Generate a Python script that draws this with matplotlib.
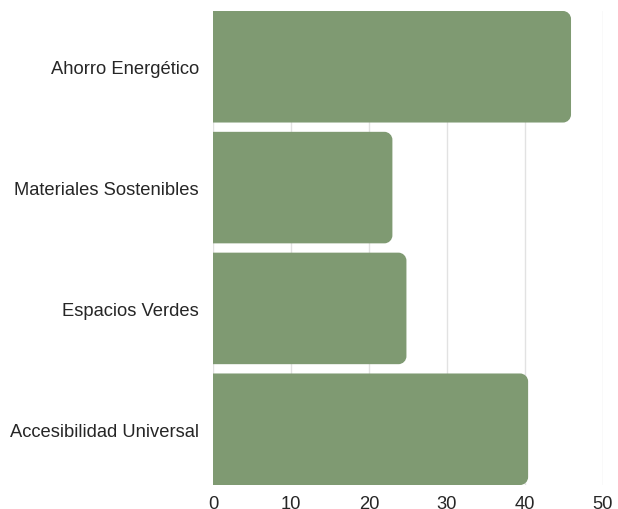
import matplotlib.pyplot as plt
from matplotlib.patches import PathPatch
from matplotlib.path import Path

categorias = ["Ahorro Energético", "Materiales Sostenibles", "Espacios Verdes", "Accesibilidad Universal"]
valores = [45.9, 23.0, 24.8, 40.4]
ticks_x = [0, 10, 20, 30, 40, 50]

plt.rcParams['font.family'] = ['Liberation Sans', 'DejaVu Sans']

fig = plt.figure(figsize=(6.18, 5.10), dpi=100)
ax = fig.add_axes([213 / 618, 1 - 486 / 510, 390 / 618, 474 / 510])

color_barra = "#7f9a72"
alto = 0.923
bars = ax.barh(categorias, valores, height=alto, color=color_barra)

ax.set_xlim(0, 50)
ax.set_ylim(3 + alto / 2, -alto / 2)

# esquinas redondeadas solo a la derecha (radio ~8 px, arco tipo circular)
rx = 8 / 7.8
ry = 8 / 120.8
k = 0.5523
for b in bars:
    x0, y0 = b.get_x(), b.get_y()
    x1, y1 = x0 + b.get_width(), y0 + b.get_height()
    b.set_visible(False)
    verts = [(x0, y0), (x1 - rx, y0),
             (x1 - rx + k * rx, y0), (x1, y0 + ry - k * ry), (x1, y0 + ry),
             (x1, y1 - ry),
             (x1, y1 - ry + k * ry), (x1 - rx + k * rx, y1), (x1 - rx, y1),
             (x0, y1), (x0, y0)]
    codes = [Path.MOVETO, Path.LINETO,
             Path.CURVE4, Path.CURVE4, Path.CURVE4,
             Path.LINETO,
             Path.CURVE4, Path.CURVE4, Path.CURVE4,
             Path.LINETO, Path.CLOSEPOLY]
    ax.add_patch(PathPatch(Path(verts, codes), facecolor=color_barra,
                           edgecolor="none", zorder=3))

ax.set_xticks(ticks_x)
ax.set_xticklabels([str(t) for t in ticks_x])
ax.grid(axis="x", color="#e2e2e2", linewidth=1)
ax.set_axisbelow(True)
for s in ax.spines.values():
    s.set_visible(False)
ax.tick_params(axis="both", length=0, labelsize=13.2, colors="#262626")
ax.tick_params(axis="y", pad=10)
ax.tick_params(axis="x", pad=7)

fig.savefig("out.png", dpi=100)
